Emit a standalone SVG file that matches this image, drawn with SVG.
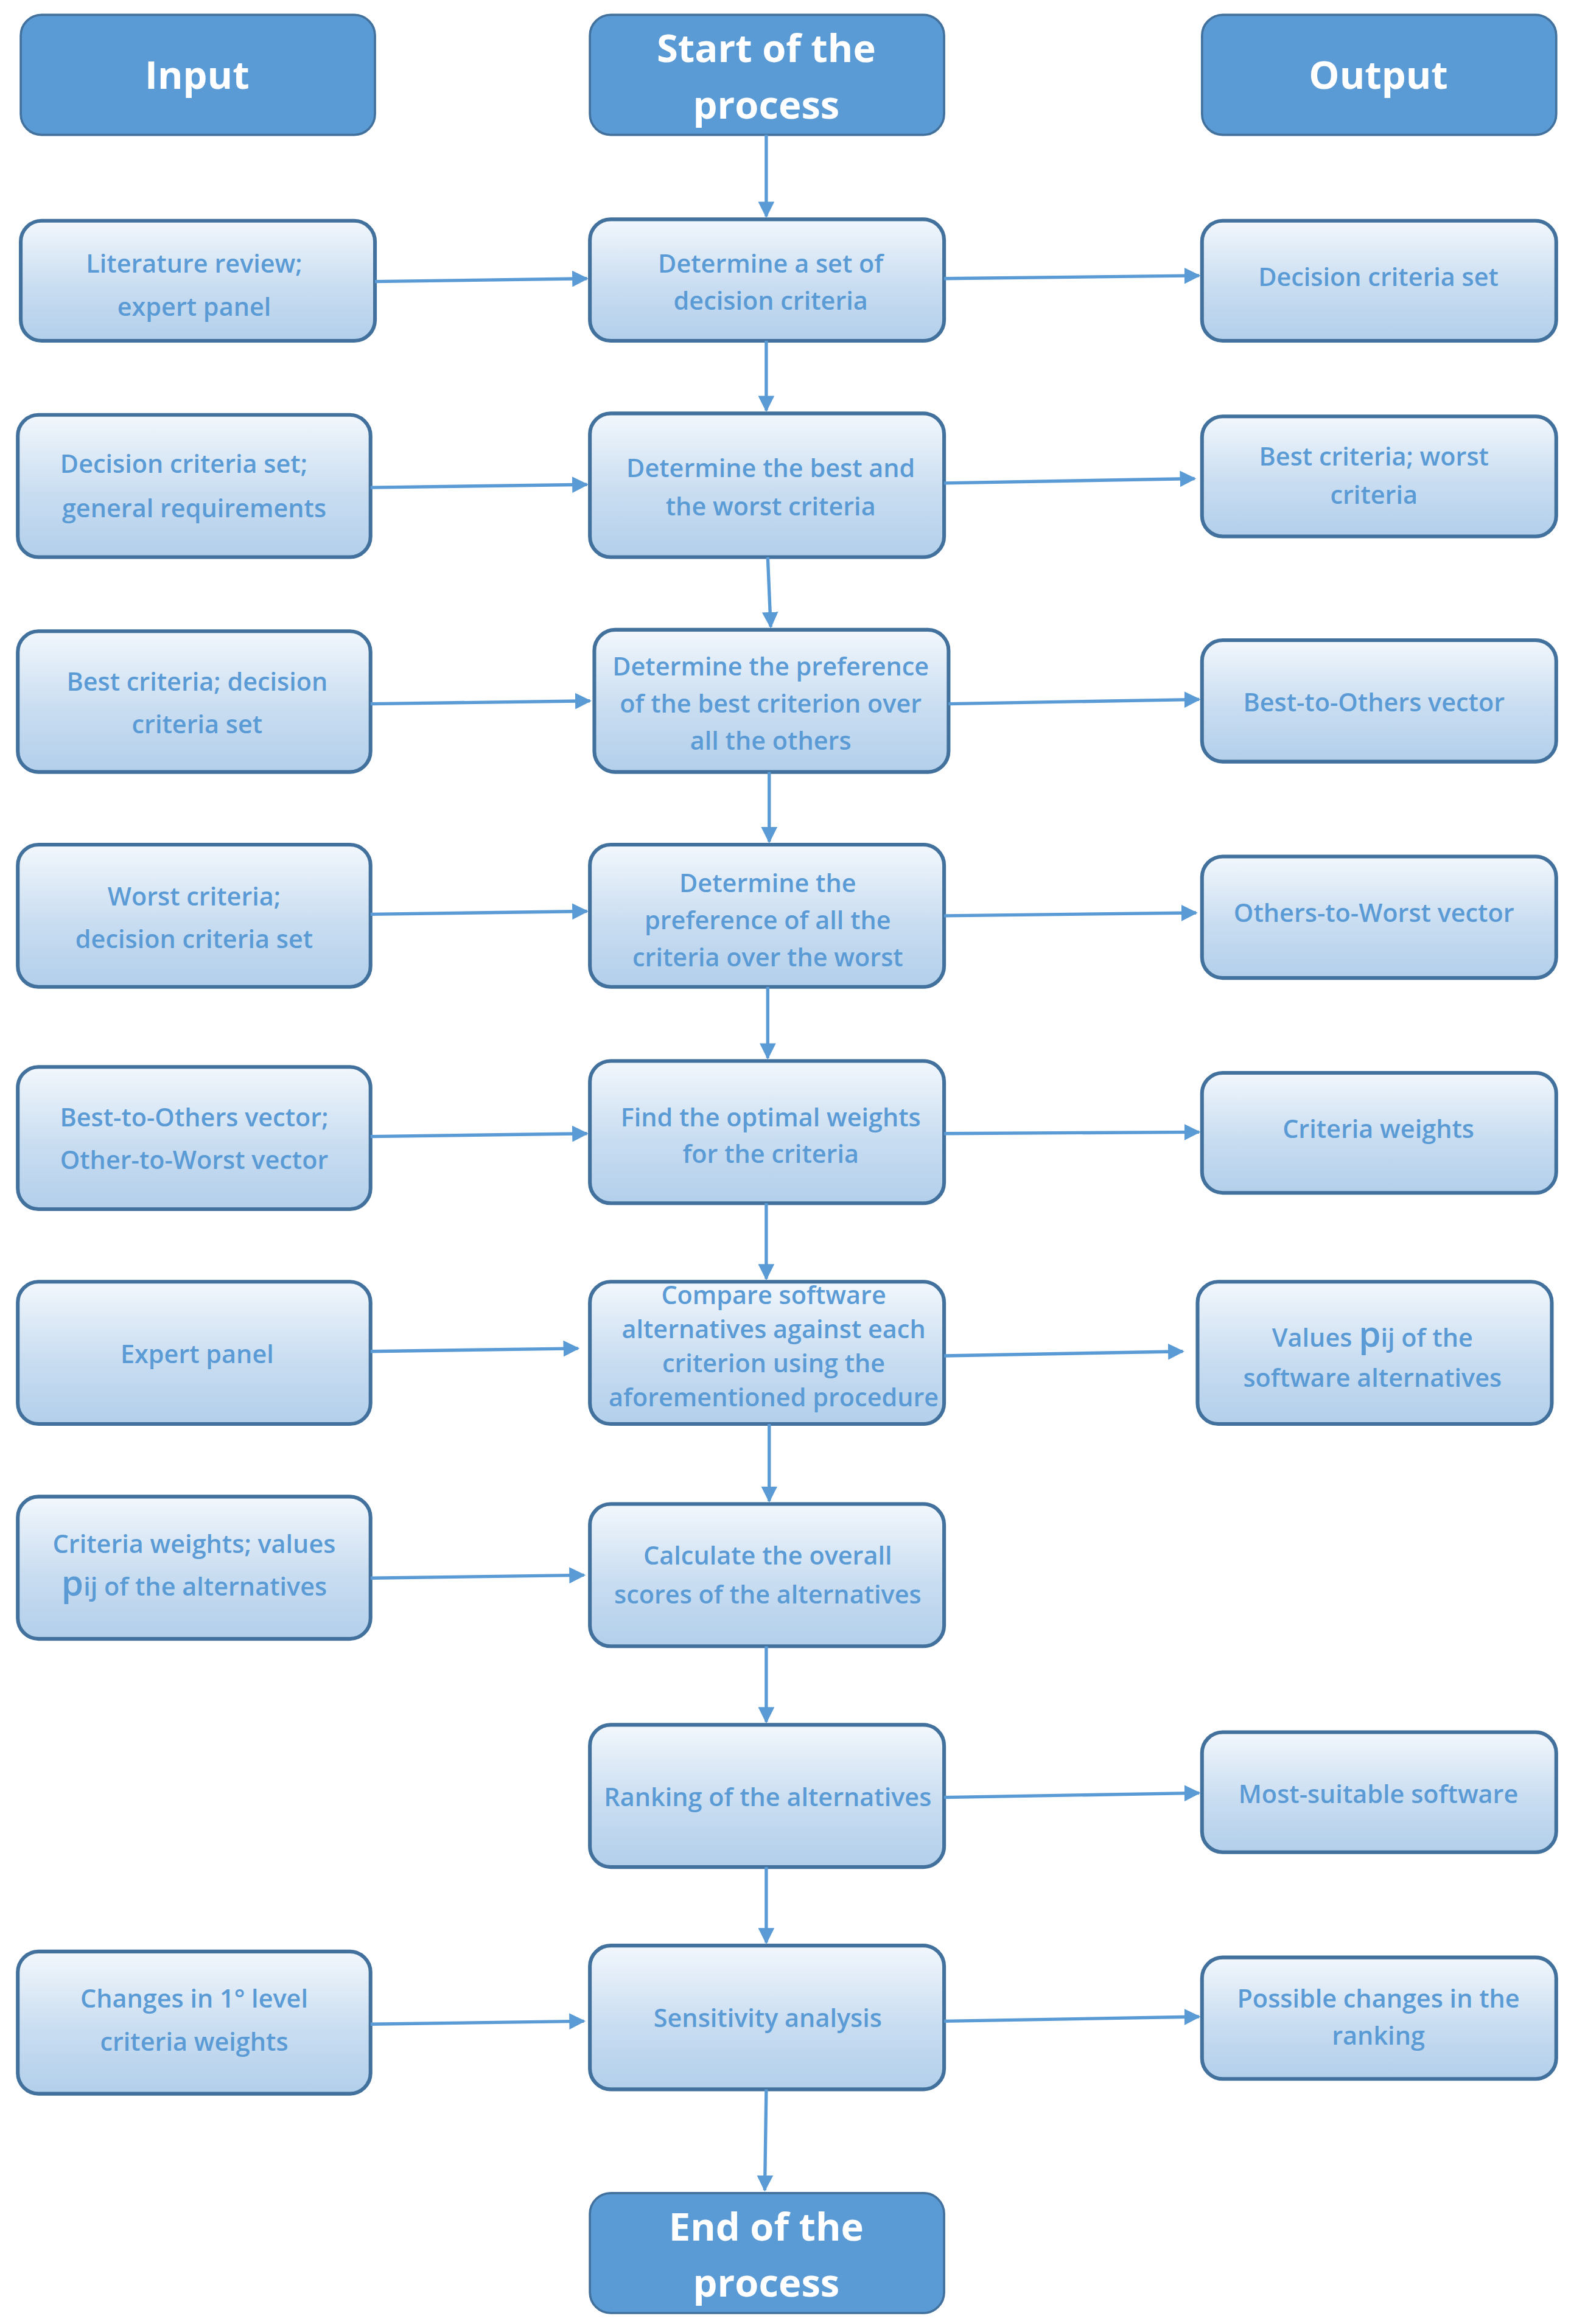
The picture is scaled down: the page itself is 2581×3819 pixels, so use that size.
<svg xmlns="http://www.w3.org/2000/svg" width="2581" height="3819" viewBox="0 0 2581 3819">
<defs>
<linearGradient id="g" x1="0" y1="0" x2="0" y2="1"><stop offset="0" stop-color="#F2F7FC"/><stop offset="0.55" stop-color="#C9DDF1"/><stop offset="1" stop-color="#B2CFEB"/></linearGradient>
<marker id="a" viewBox="0 0 10 10" refX="9" refY="5" markerWidth="5" markerHeight="5" orient="auto"><path d="M0,0 L10,5 L0,10 z" fill="#5B9BD5"/></marker>
<style>
.h rect{fill:#5B9BD5;stroke:#41719C;stroke-width:1.5}
.h text{fill:#fff;font:bold 26px "Open Sans","Liberation Sans",sans-serif;text-anchor:middle}
.n rect{fill:url(#g);stroke:#41719C;stroke-width:2.5}
.n text{fill:#5B9BD5;font:600 17px "Open Sans","Liberation Sans",sans-serif;text-anchor:middle}
.c line{stroke:#5B9BD5;stroke-width:2.2;marker-end:url(#a)}
</style>
</defs>
<rect width="2581" height="3819" fill="#fff"/>
<g transform="scale(2.435)">
<g class="h">
<g id="input"><rect x="14" y="10" width="239" height="81" rx="14"/><text x="133" y="60">Input</text></g>
<g id="start"><rect x="398" y="10" width="239" height="81" rx="14"/><text x="517" y="42">Start of the</text><text x="517" y="80">process</text></g>
<g id="output"><rect x="811" y="10" width="239" height="81" rx="14"/><text x="930" y="60">Output</text></g>
<g id="end"><rect x="398" y="1480" width="239" height="81" rx="14"/><text x="517" y="1512">End of the</text><text x="517" y="1550">process</text></g>
</g>
<g class="n">
<g id="l1"><rect x="14" y="149" width="239" height="81" rx="14"/><text x="131" y="184">Literature review;</text><text x="131" y="213">expert panel</text></g>
<g id="c1"><rect x="398" y="148" width="239" height="82" rx="14"/><text x="520" y="184">Determine a set of</text><text x="520" y="209">decision criteria</text></g>
<g id="r1"><rect x="811" y="149" width="239" height="81" rx="14"/><text x="930" y="193">Decision criteria set</text></g>

<g id="l2"><rect x="12" y="280" width="238" height="96" rx="14"/><text x="124" y="319">Decision criteria set;</text><text x="131" y="349">general requirements</text></g>
<g id="c2"><rect x="398" y="279" width="239" height="97" rx="14"/><text x="520" y="322">Determine the best and</text><text x="520" y="348">the worst criteria</text></g>
<g id="r2"><rect x="811" y="281" width="239" height="81" rx="14"/><text x="927" y="314">Best criteria; worst</text><text x="927" y="340">criteria</text></g>

<g id="l3"><rect x="12" y="426" width="238" height="95" rx="14"/><text x="133" y="466">Best criteria; decision</text><text x="133" y="495">criteria set</text></g>
<g id="c3"><rect x="401" y="425" width="239" height="96" rx="14"/><text x="520" y="456">Determine the preference</text><text x="520" y="481">of the best criterion over</text><text x="520" y="506">all the others</text></g>
<g id="r3"><rect x="811" y="432" width="239" height="82" rx="14"/><text x="927" y="480">Best-to-Others vector</text></g>

<g id="l4"><rect x="12" y="570" width="238" height="96" rx="14"/><text x="131" y="611">Worst criteria;</text><text x="131" y="640">decision criteria set</text></g>
<g id="c4"><rect x="398" y="570" width="239" height="96" rx="14"/><text x="518" y="602">Determine the</text><text x="518" y="627">preference of all the</text><text x="518" y="652">criteria over the worst</text></g>
<g id="r4"><rect x="811" y="578" width="239" height="82" rx="14"/><text x="927" y="622">Others-to-Worst vector</text></g>

<g id="l5"><rect x="12" y="720" width="238" height="96" rx="14"/><text x="131" y="760">Best-to-Others vector;</text><text x="131" y="789">Other-to-Worst vector</text></g>
<g id="c5"><rect x="398" y="716" width="239" height="96" rx="14"/><text x="520" y="760">Find  the optimal weights</text><text x="520" y="785">for the criteria</text></g>
<g id="r5"><rect x="811" y="724" width="239" height="81" rx="14"/><text x="930" y="768">Criteria weights</text></g>

<g id="l6"><rect x="12" y="865" width="238" height="96" rx="14"/><text x="133" y="920">Expert panel</text></g>
<g id="c6"><rect x="398" y="865" width="239" height="96" rx="14"/><text x="522" y="880">Compare software</text><text x="522" y="903">alternatives against each</text><text x="522" y="926">criterion using the</text><text x="522" y="949">aforementioned procedure</text></g>
<g id="r6"><rect x="808" y="865" width="239" height="96" rx="14"/><text x="926" y="909">Values <tspan font-size="24">p</tspan>ij of the</text><text x="926" y="936">software alternatives</text></g>

<g id="l7"><rect x="12" y="1010" width="238" height="96" rx="14"/><text x="131" y="1048">Criteria weights; values</text><text x="131" y="1077"><tspan font-size="24">p</tspan>ij of the alternatives</text></g>
<g id="c7"><rect x="398" y="1015" width="239" height="96" rx="14"/><text x="518" y="1056">Calculate the overall</text><text x="518" y="1082">scores of the alternatives</text></g>

<g id="c8"><rect x="398" y="1164" width="239" height="96" rx="14"/><text x="518" y="1219">Ranking of the alternatives</text></g>
<g id="r8"><rect x="811" y="1169" width="239" height="81" rx="14"/><text x="930" y="1217">Most-suitable software</text></g>

<g id="l9"><rect x="12" y="1317" width="238" height="96" rx="14"/><text x="131" y="1355">Changes in 1° level</text><text x="131" y="1384">criteria weights</text></g>
<g id="c9"><rect x="398" y="1313" width="239" height="97" rx="14"/><text x="518" y="1368">Sensitivity analysis</text></g>
<g id="r9"><rect x="811" y="1321" width="239" height="82" rx="14"/><text x="930" y="1355">Possible changes in the</text><text x="930" y="1380">ranking</text></g>
</g>
<g class="c" id="connectors">
<line x1="517" y1="91" x2="517" y2="146"/>
<line x1="517" y1="230" x2="517" y2="277"/>
<line x1="518" y1="376" x2="520" y2="423"/>
<line x1="519" y1="521" x2="519" y2="568"/>
<line x1="518" y1="666" x2="518" y2="714"/>
<line x1="517" y1="812" x2="517" y2="863"/>
<line x1="519" y1="961" x2="519" y2="1013"/>
<line x1="517" y1="1111" x2="517" y2="1162"/>
<line x1="517" y1="1260" x2="517" y2="1311"/>
<line x1="517" y1="1410" x2="516" y2="1478"/>
<line x1="253" y1="190" x2="396" y2="188"/>
<line x1="250" y1="329" x2="396" y2="327"/>
<line x1="250" y1="475" x2="398" y2="473"/>
<line x1="250" y1="617" x2="396" y2="615"/>
<line x1="250" y1="767" x2="396" y2="765"/>
<line x1="250" y1="912" x2="390" y2="910"/>
<line x1="250" y1="1065" x2="394" y2="1063"/>
<line x1="250" y1="1366" x2="394" y2="1364"/>
<line x1="637" y1="188" x2="809" y2="186"/>
<line x1="637" y1="326" x2="806" y2="323"/>
<line x1="640" y1="475" x2="809" y2="472"/>
<line x1="637" y1="618" x2="807" y2="616"/>
<line x1="637" y1="765" x2="809" y2="764"/>
<line x1="637" y1="915" x2="798" y2="912"/>
<line x1="637" y1="1213" x2="809" y2="1210"/>
<line x1="637" y1="1364" x2="809" y2="1361"/>
</g>
</g>
</svg>
